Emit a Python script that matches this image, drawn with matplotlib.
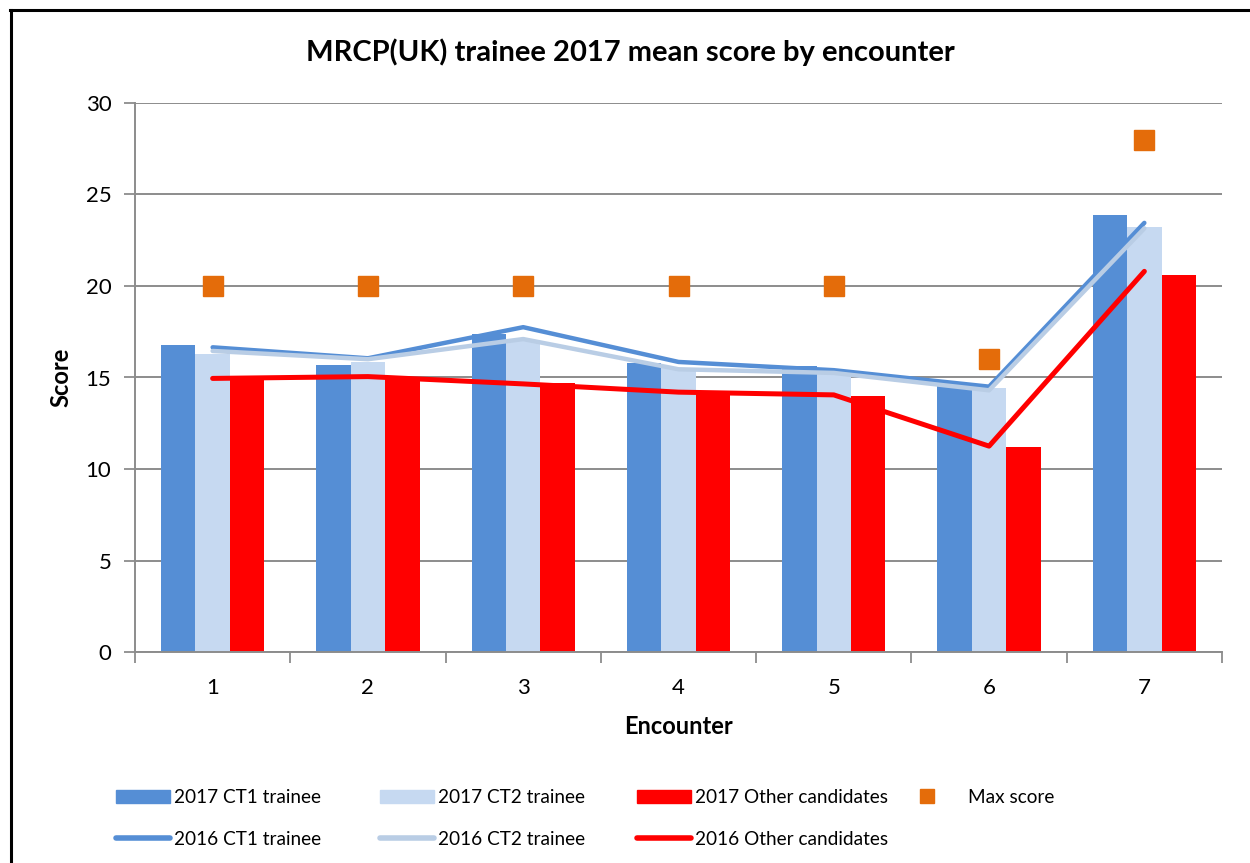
import matplotlib
matplotlib.use("Agg")
import matplotlib.pyplot as plt
from matplotlib.patches import Patch
from matplotlib.lines import Line2D
import numpy as np

plt.rcParams['font.family'] = ['Lato', 'DejaVu Sans']

encounters = [1, 2, 3, 4, 5, 6, 7]
ct1_2017 = [16.8, 15.7, 17.4, 15.8, 15.65, 14.65, 23.9]
ct2_2017 = [16.3, 15.85, 17.0, 15.5, 15.3, 14.4, 23.2]
other_2017 = [14.9, 14.9, 14.7, 14.25, 14.0, 11.2, 20.6]
max_score = [20, 20, 20, 20, 20, 16, 28]
ct1_2016 = [16.65, 16.05, 17.75, 15.85, 15.4, 14.5, 23.45]
ct2_2016 = [16.45, 16.0, 17.1, 15.45, 15.25, 14.3, 23.15]
other_2016 = [14.95, 15.05, 14.65, 14.2, 14.05, 11.25, 20.8]

C_CT1 = '#558ED5'
C_CT2 = '#C6D9F1'
C_CT2L = '#B9CDE5'
C_RED = '#FF0000'
C_MAX = '#E46C0A'
GRID = '#8C8C8C'

W, H = 1250, 863
fig = plt.figure(figsize=(W / 100, H / 100), dpi=100)
ax = fig.add_axes([135 / W, 1 - 652 / H, (1222 - 135) / W, (652 - 103) / H])

x = np.array(encounters, dtype=float)
bw = 0.222
ax.bar(x - bw, ct1_2017, bw, color=C_CT1, zorder=2)
ax.bar(x, ct2_2017, bw, color=C_CT2, zorder=2)
ax.bar(x + bw, other_2017, bw, color=C_RED, zorder=2)

ax.plot(x, ct1_2016, color=C_CT1, lw=3.2, solid_capstyle='round', solid_joinstyle='round', zorder=3)
ax.plot(x, ct2_2016, color=C_CT2L, lw=3.2, solid_capstyle='round', solid_joinstyle='round', zorder=3)
ax.plot(x, other_2016, color=C_RED, lw=3.6, solid_capstyle='round', solid_joinstyle='round', zorder=3)
ax.plot(x, max_score, ls='none', marker='s', ms=14, color=C_MAX, mec=C_MAX, zorder=4)

ax.set_xlim(0.5, 7.5)
ax.set_ylim(0, 30)
ax.set_yticks(range(0, 31, 5))
ax.set_xticks(x)
ax.set_xticklabels([str(e) for e in encounters])
ax.set_xticks(np.arange(0.5, 8.0, 1.0), minor=True)
ax.tick_params(axis='x', which='major', length=0, labelsize=16, pad=19)
ax.tick_params(axis='x', which='minor', length=8, color=GRID, width=1.3, direction='out')
ax.tick_params(axis='y', length=8, color=GRID, width=1.3, labelsize=16, pad=9, direction='out')
ax.grid(axis='y', color=GRID, lw=1.4, zorder=0)
ax.set_axisbelow(True)
for s in ['top', 'right']:
    ax.spines[s].set_visible(False)
for s in ['left', 'bottom']:
    ax.spines[s].set_color(GRID)
    ax.spines[s].set_linewidth(1.4)

fig.text(630 / W, 1 - 52 / H, 'MRCP(UK) trainee 2017 mean score by encounter',
         ha='center', va='center', fontsize=21, fontweight='bold')
fig.text(679 / W, 1 - 727 / H, 'Encounter', ha='center', va='center', fontsize=17, fontweight='bold')
fig.text(61 / W, 1 - 377 / H, 'Score', ha='center', va='center', rotation=90, fontsize=17, fontweight='bold')

# border lines
fig.add_artist(Line2D([9.5 / W, 1], [1 - 10.5 / H, 1 - 10.5 / H], color='black', lw=2.2))
fig.add_artist(Line2D([10.5 / W, 10.5 / W], [0, 1 - 10 / H], color='black', lw=2.2))

lab = ['2017 CT1 trainee', '2017 CT2 trainee', '2017 Other candidates', 'Max score',
       '2016 CT1 trainee', '2016 CT2 trainee', '2016 Other candidates']
cols = [
    (116, [Patch(color=C_CT1), Line2D([], [], color=C_CT1, lw=4, solid_capstyle='round')], [lab[0], lab[4]]),
    (380, [Patch(color=C_CT2), Line2D([], [], color=C_CT2L, lw=4, solid_capstyle='round')], [lab[1], lab[5]]),
    (637, [Patch(color=C_RED), Line2D([], [], color=C_RED, lw=4, solid_capstyle='round')], [lab[2], lab[6]]),
]
for xp, hs, ls in cols:
    fig.legend(hs, ls, loc='upper left', bbox_to_anchor=(xp / W, 1 - 789 / H),
               frameon=False, fontsize=13.7, handlelength=2.85, handleheight=0.7,
               handletextpad=0.2, borderpad=0, borderaxespad=0, labelspacing=1.3)
fig.legend([Line2D([], [], ls='none', marker='s', ms=10, color=C_MAX)], [lab[3]],
           loc='upper left', bbox_to_anchor=(900 / W, 1 - 789 / H), frameon=False,
           fontsize=13.7, handlelength=2.85, handletextpad=0.75, borderpad=0, borderaxespad=0)

fig.savefig('out.png', dpi=100)
